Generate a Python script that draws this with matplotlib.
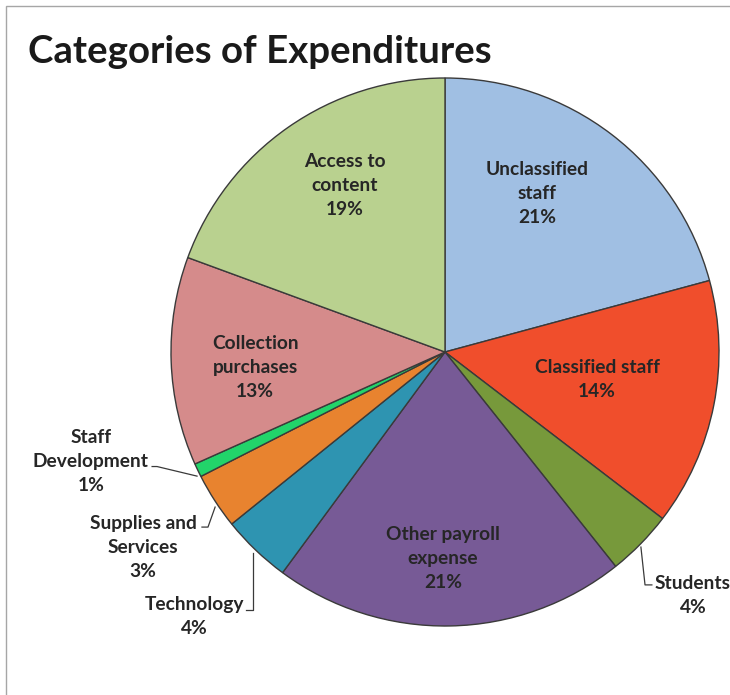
import matplotlib
matplotlib.use("Agg")
import matplotlib.pyplot as plt
import numpy as np

# ---- data ----
categories = ["Unclassified\nstaff", "Classified staff", "Students", "Other payroll\nexpense",
              "Technology", "Supplies and\nServices", "Staff\nDevelopment",
              "Collection\npurchases", "Access to\ncontent"]
values = [20.8, 14.6, 3.9, 20.8, 4.1, 3.3, 0.8, 12.3, 19.4]
pct_labels = ["21%", "14%", "4%", "21%", "4%", "3%", "1%", "13%", "19%"]
colors = ["#A0BFE3", "#F04E2C", "#77993B", "#775A96", "#2E94B1",
          "#E8832F", "#22D46A", "#D58B8B", "#B9D18F"]
title = "Categories of Expenditures"

# ---- layout (label anchors in pie-data units, radius 1) ----
label_pos = [(0.336, 0.580), (0.555, -0.102), (0.905, -0.887), (-0.007, -0.752),
             (-0.916, -0.967), (-1.102, -0.715), (-1.292, -0.398),
             (-0.693, -0.055), (-0.365, 0.609)]
leaders = {2: [(0.715, -0.712), (0.730, -0.850), (0.755, -0.850)],
           4: [(-0.700, -0.734), (-0.700, -0.942), (-0.726, -0.942)],
           5: [(-0.839, -0.566), (-0.865, -0.639), (-0.887, -0.639)],
           6: [(-0.905, -0.453), (-1.051, -0.418), (-1.069, -0.418)]}

W, H = 730, 695
fig = plt.figure(figsize=(W / 100, H / 100), dpi=100)
fig.patch.set_facecolor("white")

# frame border
fig.add_artist(plt.Rectangle((6 / W, -0.01), 1.0, 1 - 6 / H + 0.01, transform=fig.transFigure,
                             fill=False, edgecolor="#A6A6A6", linewidth=1.0))

cx, cy, R = 445, 352, 274
ax = fig.add_axes([(cx - R) / W, (H - cy - R) / H, 2 * R / W, 2 * R / H])

wedges, _ = ax.pie(values, colors=colors, startangle=90, counterclock=False, radius=1.0,
                   wedgeprops=dict(edgecolor="#3A3A3A", linewidth=1.0))
ax.set_xlim(-1, 1)
ax.set_ylim(-1, 1)
ax.set_aspect("equal")
ax.axis("off")
for w in wedges:
    w.set_clip_on(False)

font = ["Lato", "DejaVu Sans"]
for i, (cat, pct) in enumerate(zip(categories, pct_labels)):
    x, y = label_pos[i]
    ax.text(x, y, cat + "\n" + pct, ha="center", va="center", fontsize=13.8,
            fontweight="bold", color="#262626", family=font, linespacing=1.5,
            clip_on=False)
for i, pts in leaders.items():
    xs, ys = zip(*pts)
    ax.plot(xs, ys, color="#3A3A3A", linewidth=0.9, clip_on=False)

fig.text(28 / W, 1 - 52 / H, title, ha="left", va="center", fontsize=27.6,
         fontweight="bold", color="#1A1A1A", family=font)

fig.savefig("out.png", dpi=100, facecolor="white")
